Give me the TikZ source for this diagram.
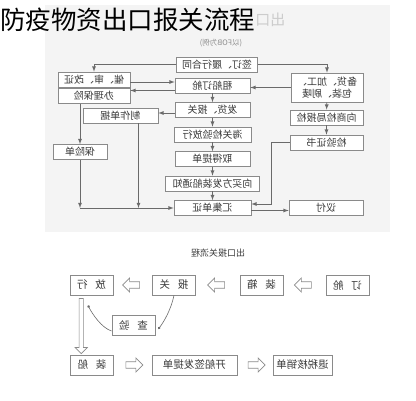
\documentclass[tikz,border=0pt]{standalone}
\usepackage{fontspec}
\usepackage{graphicx}
\newfontfamily\cjk{Noto Sans CJK SC}
\usetikzlibrary{positioning, calc, shapes.arrows, arrows.meta}
\definecolor{panelgray}{HTML}{F4F4F4}
\definecolor{boxgray}{HTML}{8A8A8A}
\definecolor{linegray}{HTML}{6A6A6A}
\definecolor{txtgray}{HTML}{3A3A3A}
\newcommand{\flip}[1]{\reflectbox{#1}}
\tikzset{
  box/.style={draw=boxgray, fill=white, line width=0.7pt, minimum height=15pt, inner sep=1pt, text=txtgray, font=\cjk\fontsize{10}{10.5}\selectfont},
  lowbox/.style={box, minimum height=20pt, minimum width=43pt, line width=0.8pt, font=\cjk\fontsize{10.5}{11}\selectfont},
  arr/.style={->, draw=linegray, line width=0.8pt},
  curl/.style={draw=linegray, line width=0.6pt, -{Circle[length=2.5pt]}},
  hollow/.style={single arrow, draw=boxgray, fill=white, line width=0.7pt, minimum height=17pt, minimum width=14pt, single arrow head extend=2.5pt, inner sep=1.8pt},
}

\begin{document}
\begin{tikzpicture}[x=1pt, y=-1pt, node distance=24.5pt, on grid, >=latex]
   \useasboundingbox (0,0) rectangle (416,400);
   \fill[panelgray] (45,5) rectangle (390,232);
   \node[text=black!20, font=\cjk\fontsize{15}{15}\selectfont, anchor=east] (ghost) at (289,20) {\flip{出口}};
   \node[anchor=west, inner sep=0pt, font=\cjk\fontsize{25.5}{26}\selectfont] (title) at (0,20) {防疫物资出口报关流程};
   \node[text=black!45, font=\cjk\fontsize{7.5}{8}\selectfont] (fob) at (221,43) {\flip{(以FOB为例)}};

   % middle column
   \node[box, minimum width=81pt] (qd) at (217,64.5) {\flip{签订、履行合同}};
   \node[box, minimum width=75pt] (zc) at (212.5,85.5) {\flip{租船订舱}};
   \node[box, minimum width=75pt] (fh) [below=of zc] {\flip{发货、报关}};
   \node[box, minimum width=77pt] (hg) [below=of fh] {\flip{海关检验放行}};
   \node[box, minimum width=75pt] (qt) [below=of hg] {\flip{取得提单}};
   \node[box, minimum width=94pt] (xm) [below=of qt] {\flip{向买方发装船通知}};
   \node[box, minimum width=77pt] (hj) [below=of xm] {\flip{汇集单证}};

   % right column
   \node[box, minimum width=72pt, minimum height=29pt, align=center] (bh) at (327,87.5) {\flip{\shortstack{备货、加工、\\包装、刷唛}}};
   \node[box, minimum width=73pt] (xs) at (326.5,117.5) {\flip{向商检局报检}};
   \node[box, minimum width=73pt] (jy) at (326.5,142.5) {\flip{检验证书}};
   \node[box, minimum width=74pt] (yf) at (326,207.5) {\flip{议付}};

   % left column
   \node[box, minimum width=72pt] (cui) at (94,79.5) {\flip{催、审、改证}};
   \node[box, minimum width=72pt] (bl) at (94,95.8) {\flip{办理保险}};
   \node[box, minimum width=75pt] (zz) at (120.5,115.5) {\flip{制作单据}};
   \node[box, minimum width=54pt] (bxd) at (80,152) {\flip{保险单}};

   \draw[arr] (qd.east) -| (bh.north);
   \draw[arr] (qd.west) -| (cui.north);
   \draw[arr] (bh.west) -- (bh.west -| zc.east);
   \draw[arr] ([yshift=-2.5pt]cui.east) -- ([yshift=-2.5pt]cui.east -| zc.west);
   \draw[arr] ([yshift=-5pt]zc.west) -- ([yshift=-5pt]zc.west -| bl.east);
   \draw[arr] ([yshift=-3pt]fh.west) -- ([yshift=-3pt]fh.west -| zz.east);
   \draw[arr] (zc) -- (fh);
   \draw[arr] (fh) -- (hg);
   \draw[arr] (hg) -- (qt);
   \draw[arr] (qt) -- (xm);
   \draw[arr] (xm) -- (hj);
   \draw[arr] (bh) -- (xs);
   \draw[arr] (xs) -- (jy);
   \draw[arr] (bxd.north |- bl.south) -- (bxd.north);
   \coordinate (jn) at (bxd.south |- hj.west);
   \draw[arr] (bxd.south) -- (jn);
   \draw[arr] ([xshift=18pt]zz.south) -- ([xshift=18pt]zz.south |- hj.west);
   \draw[arr] (jn) -- (hj.west);
   \draw[arr] (jy.west) -- ++(-18,0) |- ([yshift=4pt]hj.east);
   \draw[arr] ([yshift=-2.5pt]hj.east) -- ([yshift=-2.5pt]hj.east -| yf.west);

   % lower chart
   \node[text=txtgray, font=\cjk\fontsize{9}{9}\selectfont] (lt) at (218,253) {\flip{出口报关流程}};
   \node[lowbox] (fx) at (91.5,285) {\flip{放\hspace{8pt}行}};
   \node[lowbox] (bg) at (174,285) {\flip{报\hspace{8pt}关}};
   \node[lowbox] (zx) at (261.5,285) {\flip{装\hspace{8pt}箱}};
   \node[lowbox] (dc) at (347.5,285) {\flip{订\hspace{8pt}舱}};
   \node[lowbox] (cy) at (133.5,325) {\flip{查\hspace{8pt}验}};
   \node[lowbox] (zcb) at (92,365) {\flip{装\hspace{8pt}船}};
   \node[lowbox, minimum width=85pt] (kc) at (194.5,365) {\flip{开船签发提单}};
   \node[lowbox, minimum width=59pt] (ts) at (302.5,365) {\flip{退税核销单}};

   \node[hollow, shape border rotate=180] (h1) at ($(dc.west)!0.5!(zx.east)$) {};
   \node[hollow, shape border rotate=180] (h2) at ($(zx.west)!0.5!(bg.east)$) {};
   \node[hollow, shape border rotate=180] (h3) at ($(bg.west)!0.5!(fx.east)$) {};
   \node[hollow] (h4) at ($(zcb.east)!0.5!(kc.west)$) {};
   \node[hollow] (h5) at ($(kc.east)!0.5!(ts.west)$) {};
   \node[hollow, shape border rotate=270, minimum height=55pt, minimum width=12pt, inner sep=1pt] (h6) at ($(fx.south)!0.5!(zcb.north)+(-10.5,0)$) {};

   \coordinate (fxdot) at ([xshift=-3.5pt, yshift=-10pt]fx.south);
   \draw[curl] (bg.south) .. controls +(-3,14) and +(6,-8) .. ([xshift=3pt, yshift=-4pt]cy.east);
   \draw[curl] ([yshift=-6pt]cy.west) .. controls +(-10,-3) and +(4,8) .. (fxdot);
\end{tikzpicture}
\end{document}
